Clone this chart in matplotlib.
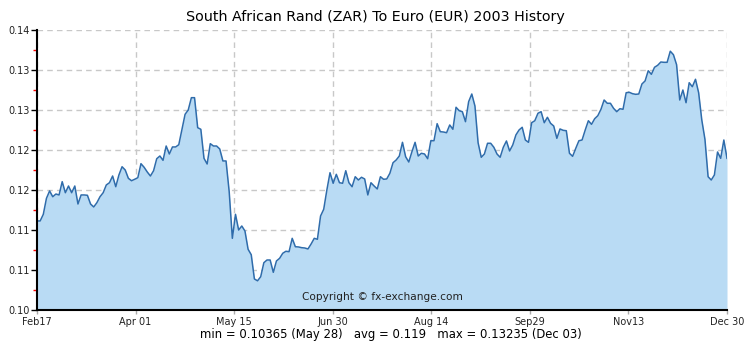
import matplotlib
matplotlib.use('Agg')
import matplotlib.pyplot as plt
import numpy as np

# daily ZAR -> EUR rates, Feb 17 to Dec 30 2003
rates = [
    0.11113, 0.11113, 0.11196, 0.11396, 0.11488, 0.11416, 0.11450, 0.11438,
    0.11604, 0.11466, 0.11550, 0.11466, 0.11550, 0.11325, 0.11438, 0.11438,
    0.11434, 0.11325, 0.11288, 0.11341, 0.11416, 0.11466, 0.11563, 0.11591,
    0.11675, 0.11541, 0.11688, 0.11791, 0.11750, 0.11646, 0.11616, 0.11634,
    0.11654, 0.11829, 0.11784, 0.11725, 0.11675, 0.11741,
    0.11891, 0.11925, 0.11871, 0.12050, 0.11950, 0.12038, 0.12038, 0.12066,
    0.12259, 0.12446, 0.12500, 0.12654, 0.12654, 0.12279, 0.12259, 0.11896,
    0.11825, 0.12079, 0.12050, 0.12050, 0.12013, 0.11863, 0.11863, 0.11479,
    0.10896, 0.11196, 0.11000, 0.11050, 0.10988, 0.10759, 0.10691, 0.10388,
    0.10365, 0.10416, 0.10591, 0.10625, 0.10625, 0.10471, 0.10613, 0.10646,
    0.10709, 0.10734, 0.10729, 0.10896, 0.10791, 0.10788, 0.10779, 0.10775,
    0.10763, 0.10825, 0.10896, 0.10884, 0.11175, 0.11259, 0.11500, 0.11716,
    0.11584, 0.11696, 0.11591, 0.11584, 0.11741, 0.11591, 0.11541, 0.11666,
    0.11625, 0.11659, 0.11638, 0.11438, 0.11591, 0.11550, 0.11513, 0.11666,
    0.11634, 0.11638, 0.11709, 0.11841, 0.11875, 0.11925, 0.12096, 0.11916,
    0.11850, 0.11979, 0.12096, 0.11925, 0.11959, 0.11950, 0.11891, 0.12116,
    0.12116, 0.12329, 0.12229, 0.12225, 0.12216, 0.12313, 0.12259, 0.12534,
    0.12491, 0.12479, 0.12354, 0.12604, 0.12700, 0.12550, 0.12091, 0.11909,
    0.11950, 0.12084, 0.12084, 0.12034, 0.11950,
    0.11909, 0.12034, 0.12113, 0.11988, 0.12063, 0.12188, 0.12250, 0.12284,
    0.12125, 0.12096, 0.12341, 0.12366, 0.12459, 0.12479, 0.12341, 0.12409,
    0.12334, 0.12300, 0.12146, 0.12263, 0.12246, 0.12241, 0.11959, 0.11921,
    0.12021, 0.12116, 0.12125, 0.12250, 0.12366, 0.12321, 0.12391, 0.12429,
    0.12509, 0.12625, 0.12584, 0.12584,
    0.12521, 0.12479, 0.12516, 0.12509, 0.12716, 0.12721, 0.12704, 0.12696,
    0.12700, 0.12825, 0.12863, 0.12991, 0.12946, 0.13034, 0.13059, 0.13100,
    0.13096, 0.13096, 0.13235, 0.13191, 0.13066, 0.12625, 0.12750, 0.12591,
    0.12841, 0.12791, 0.12884, 0.12716, 0.12375, 0.12134, 0.11666, 0.11625,
    0.11688, 0.11975, 0.11896, 0.12125, 0.11896,
]

date_labels = ['Feb17', 'Apr 01', 'May 15', 'Jun 30', 'Aug 14', 'Sep29', 'Nov13', 'Dec 30']
y_ticks = [0.100, 0.105, 0.110, 0.115, 0.120, 0.125, 0.130, 0.135]
y_labels = ['0.10', '0.11', '0.11', '0.12', '0.12', '0.13', '0.13', '0.14']

x = np.arange(len(rates))
n = len(rates) - 1

fig = plt.figure(figsize=(7.5, 3.45), dpi=100)
ax = fig.add_axes([37 / 750, 35 / 345, 690 / 750, 280 / 345])

# grid sits under the filled area
ax.set_axisbelow(True)
ax.fill_between(x, rates, 0.10, color='#b9dbf4', lw=0, zorder=2)
ax.plot(x, rates, color='#2f6cab', lw=1.1, zorder=3)

ax.set_xlim(0, n)
ax.set_ylim(0.10, 0.135)

xt = np.linspace(0, n, len(date_labels))
ax.set_xticks(xt)
ax.set_xticklabels(date_labels, fontsize=7, color='#222222')
ax.set_yticks(y_ticks)
ax.set_yticklabels(y_labels, fontsize=7, color='#222222')
ax.set_yticks(np.arange(0.1025, 0.135, 0.005), minor=True)

ax.tick_params(axis='y', which='major', length=4, width=1, color='black', pad=1)
ax.tick_params(axis='y', which='minor', length=3, width=1, color='red')
ax.tick_params(axis='x', length=3, width=1, color='#aaaaaa', pad=2)

ax.grid(True, which='major', color='#c8c8c8', linestyle=(0, (4, 3)), linewidth=1)
for s in ['top', 'right']:
    ax.spines[s].set_visible(False)
ax.spines['left'].set_linewidth(1.5)
ax.spines['bottom'].set_linewidth(1.5)
ax.spines['left'].set_zorder(4)
ax.spines['bottom'].set_zorder(4)

fig.text(0.5, 0.95, 'South African Rand (ZAR) To Euro (EUR) 2003 History',
         ha='center', va='center', fontsize=10.3)
ax.text(0.5, 0.045, 'Copyright \u00a9 fx-exchange.com', transform=ax.transAxes,
        ha='center', va='center', fontsize=7.6, color='#222222', zorder=5)
fig.text(0.521, 0.03, 'min = 0.10365 (May 28)   avg = 0.119   max = 0.13235 (Dec 03)',
         ha='center', va='center', fontsize=8.4)

fig.savefig('out.png', dpi=100)
